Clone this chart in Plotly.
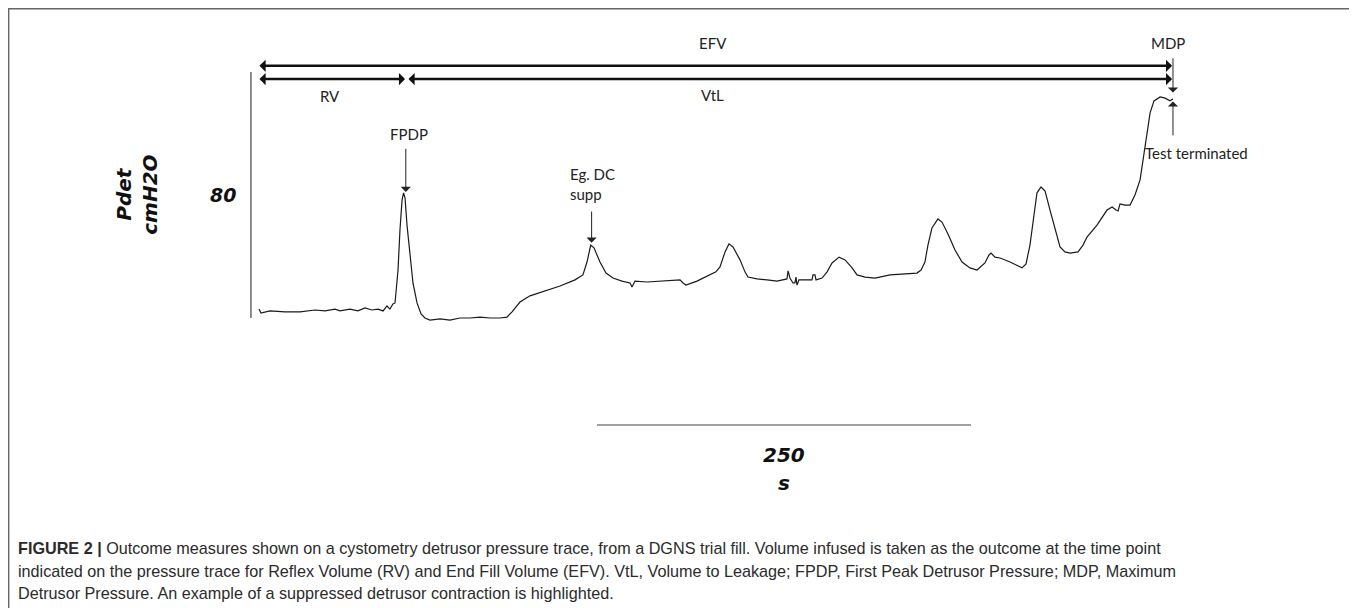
import plotly.graph_objects as go

# ---- Data: detrusor pressure trace (time in s, pressure in cmH2O) ----
time_s = [0.7, 2.0, 8.0, 18.0, 28.1, 38.1, 44.8, 51.5, 54.8, 61.5, 66.8, 71.5, 76.2, 80.2, 83.6, 86.2,
          88.2, 90.2, 91.6, 93.6, 94.9, 96.3, 97.3, 98.3, 99.6, 101.6, 103.6, 106.3, 109.0, 111.6,
          115.0, 121.7, 128.3, 135.0, 141.7, 148.4, 155.1, 161.8, 166.4, 169.8, 175.1, 181.8, 193.2,
          201.9, 211.9, 217.2, 219.9, 222.4, 224.6, 228.6, 232.6, 237.3, 243.3, 248.7, 250.0, 252.0,
          260.0, 268.7, 275.4, 282.1, 284.1, 286.1, 293.4, 302.1, 306.1, 308.8, 312.2, 314.8, 317.5,
          322.2, 325.5, 327.5, 333.6, 340.2, 346.9, 353.6, 354.3, 355.6, 357.6, 358.9, 359.6, 360.3,
          361.6, 365.6, 370.3, 371.0, 372.3, 373.0, 377.0, 380.4, 383.7, 388.4, 392.4, 397.1, 400.4,
          405.8, 412.4, 422.5, 432.5, 440.5, 443.2, 445.8, 447.8, 450.5, 454.5, 457.2, 461.2, 465.9,
          470.6, 475.9, 480.6, 485.9, 488.6, 490.0, 492.6, 496.0, 502.7, 510.7, 513.4, 516.0, 518.7,
          520.7, 523.4, 526.1, 529.4, 532.8, 536.1, 539.4, 542.8, 548.1, 551.5, 554.1, 560.8, 567.5,
          570.9, 573.5, 574.9, 576.2, 579.5, 582.9, 586.2, 589.6, 590.9, 592.9, 594.3, 596.3, 598.9,
          603.0, 606.3, 608.3, 609.6, 611.6]
pdet_cmh2o = [2.9, 1.6, 2.3, 2.0, 2.0, 2.6, 2.3, 2.9, 2.3, 2.9, 2.3, 3.3, 2.6, 2.9, 2.3, 3.9,
              2.9, 4.6, 4.9, 15.6, 28.6, 38.4, 40.7, 39.0, 30.2, 19.5, 11.4, 4.9, 1.3, 0.0,
              -0.7, -0.3, -0.7, 0.0, 0.0, 0.3, 0.0, 0.0, 0.3, 2.0, 5.2, 7.2, 9.1,
              10.4, 12.4, 14.0, 18.2, 23.7, 22.8, 18.2, 14.6, 13.0, 12.0, 11.4, 10.1, 12.0,
              11.7, 12.0, 12.0, 12.4, 11.4, 10.7, 12.0, 14.0, 15.0, 16.6, 21.5, 24.1, 23.1,
              18.9, 15.0, 13.3, 12.7, 12.4, 12.0, 12.7, 15.3, 13.0, 11.4, 11.4, 13.3, 10.7,
              12.4, 12.4, 12.4, 14.0, 14.0, 12.4, 13.0, 15.0, 17.9, 19.8, 18.9, 16.3, 14.0,
              13.3, 13.0, 14.0, 14.3, 14.6, 15.6, 18.2, 23.7, 29.3, 32.2, 31.2, 27.3, 22.1,
              18.2, 16.3, 15.6, 17.9, 20.5, 21.1, 19.8, 19.5, 18.2, 16.3, 17.6, 23.7, 33.5,
              40.7, 42.6, 41.3, 35.1, 28.6, 23.1, 21.5, 21.1, 21.5, 23.7, 26.3, 30.2, 35.1,
              36.1, 35.1, 34.8, 37.1, 36.7, 36.7, 40.0, 44.9, 49.1, 54.6, 58.9, 66.7, 70.6,
              71.9, 71.5, 70.9, 70.6, 71.2]

# ---- Event times (s) ----
fill_start_s = 0.0
rv_time_s = 98.3        # Reflex Volume (at FPDP)
vtl_start_s = 99.6
efv_time_s = 611.0      # End Fill Volume
fpdp_time_s = 97.3
dc_time_s = 222.4
mdp_time_s = 611.6

# ---- Scale bars ----
scale_pressure_cmh2o = 80
scale_time_s = 250
scale_time_start_s = 226.6

# ---- Caption ----
caption_lines = [
    "<b>FIGURE 2 |</b> Outcome measures shown on a cystometry detrusor pressure trace, from a DGNS trial fill. Volume infused is taken as the outcome at the time point",
    "indicated on the pressure trace for Reflex Volume (RV) and End Fill Volume (EFV). VtL, Volume to Leakage; FPDP, First Peak Detrusor Pressure; MDP, Maximum",
    "Detrusor Pressure. An example of a suppressed detrusor contraction is highlighted.",
]

W, H = 1349, 600
LBL = dict(family="Lato, Open Sans, sans-serif", size=15, color="#222")
BOLDI = "DejaVu Sans"

fig = go.Figure()
fig.add_trace(go.Scatter(x=time_s, y=pdet_cmh2o, mode="lines",
                         line=dict(color="#1a1a1a", width=1.2), hoverinfo="skip",
                         showlegend=False))

# vertical pressure scale bar
fig.add_trace(go.Scatter(x=[-4.7, -4.7], y=[0, scale_pressure_cmh2o], mode="lines",
                         line=dict(color="#444", width=1.2), hoverinfo="skip", showlegend=False))
# horizontal time scale bar
fig.add_trace(go.Scatter(x=[scale_time_start_s, scale_time_start_s + scale_time_s], y=[-34.8, -34.8],
                         mode="lines", line=dict(color="#444", width=1.2), hoverinfo="skip",
                         showlegend=False))

ann = []

def harrow(x0, x1, y):
    ann.append(dict(x=x1, y=y, ax=x0, ay=y, xref="x", yref="y", axref="x", ayref="y",
                    text="", showarrow=True, arrowhead=1, startarrowhead=1, arrowside="end+start",
                    arrowwidth=2.4, arrowsize=0.85, startarrowsize=0.85, arrowcolor="#111",
                    standoff=0, startstandoff=0))

def varrow(x, y_tail, y_tip):
    ann.append(dict(x=x, y=y_tip, ax=x, ay=y_tail, xref="x", yref="y", axref="x", ayref="y",
                    text="", showarrow=True, arrowhead=1, arrowwidth=1, arrowsize=1.7,
                    arrowcolor="#222", standoff=0))

harrow(fill_start_s, efv_time_s, 82.0)
harrow(fill_start_s, rv_time_s, 77.7)
harrow(vtl_start_s, efv_time_s, 77.7)

varrow(mdp_time_s, 84.9, 73.3)
varrow(mdp_time_s, 58.9, 70.4)
varrow(fpdp_time_s + 1.5, 55.5, 41.0)
varrow(dc_time_s + 0.6, 35.1, 24.5)

def label(x, y, text, xanchor="center", font=LBL, **kw):
    ann.append(dict(x=x, y=y, xref="x", yref="y", text=text, showarrow=False,
                    xanchor=xanchor, yanchor="middle", font=font, **kw))

label(304.0, 89.5, "EFV")
label(608.5, 89.5, "MDP")
label(48.0, 72.2, "RV")
label(304.0, 72.5, "VtL")
label(101.0, 59.8, "FPDP")
label(207.5, 43.5, "Eg. DC<br>supp", xanchor="left", align="left")
label(591.5, 53.5, "Test terminated", xanchor="left")

# axis labels (bold italic)
label(-23.5, 40.0, "<b><i>%d</i></b>" % scale_pressure_cmh2o,
      font=dict(family=BOLDI, size=19, color="#111"))
label(-81.0, 40.0, "<b><i>Pdet<br>cmH2O</i></b>",
      font=dict(family=BOLDI, size=20, color="#111"), textangle=-90)
label(scale_time_start_s + scale_time_s / 2, -44.6, "<b><i>%d</i></b>" % scale_time_s,
      font=dict(family=BOLDI, size=20, color="#111"))
label(scale_time_start_s + scale_time_s / 2, -53.7, "<b><i>s</i></b>",
      font=dict(family=BOLDI, size=20, color="#111"))

# caption, one annotation per line
for i, line in enumerate(caption_lines):
    ann.append(dict(x=8 / W, y=1 - (540 + 22.5 * i) / H, xref="paper", yref="paper",
                    xanchor="left", yanchor="middle", align="left", showarrow=False, text=line,
                    font=dict(family="Liberation Sans, Arial, sans-serif", size=16.2,
                              color="#2b2b2b")))

fig.update_layout(
    width=W, height=H, margin=dict(l=0, r=0, t=0, b=0),
    paper_bgcolor="white", plot_bgcolor="white",
    xaxis=dict(range=[-167.1, 734.6], visible=False, fixedrange=True),
    yaxis=dict(range=[-94.3, 100.8], visible=False, fixedrange=True),
    annotations=ann,
    shapes=[dict(type="rect", xref="paper", yref="paper", x0=0.5 / W, x1=1347.5 / W,
                 y0=-0.02, y1=1 - 0.5 / H, line=dict(color="#666", width=1.8))],
)

fig.write_html("out.html")
